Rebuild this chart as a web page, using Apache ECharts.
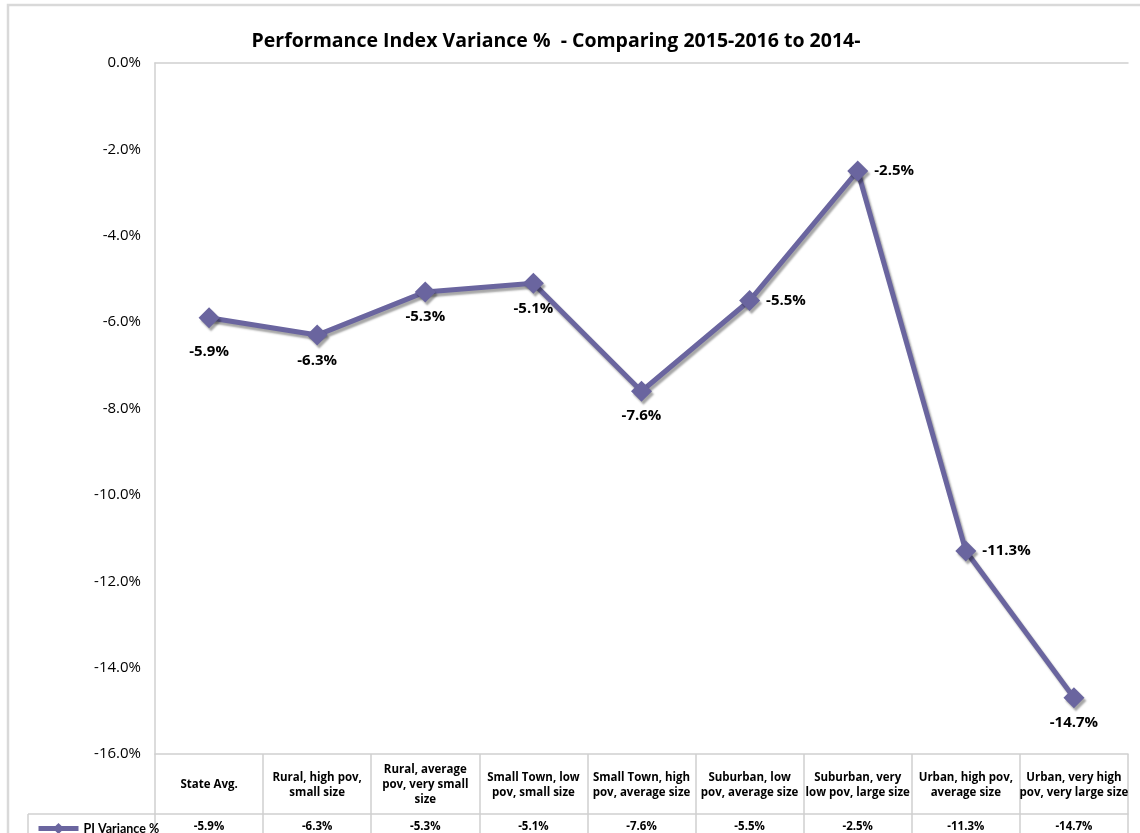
<!DOCTYPE html>
<html>
<head>
<meta charset="utf-8">
<script src="https://cdn.jsdelivr.net/npm/echarts@6/dist/echarts.min.js"></script>
<style>
html,body{margin:0;padding:0;background:#fff;}
#chart{width:1140px;height:833px;}
</style>
</head>
<body>
<div id="chart"></div>
<script>
const titleText = 'Performance Index Variance %  - Comparing 2015-2016 to 2014-';
const seriesName = 'PI Variance %';
const categories = [
  'State Avg.',
  'Rural, high pov,\nsmall size',
  'Rural, average\npov, very small\nsize',
  'Small Town, low\npov, small size',
  'Small Town, high\npov, average size',
  'Suburban, low\npov, average size',
  'Suburban, very\nlow pov, large size',
  'Urban, high pov,\naverage size',
  'Urban, very high\npov, very large size'
];
const values = [-5.9, -6.3, -5.3, -5.1, -7.6, -5.5, -2.5, -11.3, -14.7];
const yTicks = { min: -16, max: 0, interval: 2 };
const labelSide = ['bottom','bottom','bottom','bottom','bottom','right','right','right','bottom'];
const labelGap  = [16, 8, 7, 7, 7, 6, 6, 6, 7];

const FONT = '"Open Sans", "Noto Sans", sans-serif';
const GRIDC = '#d0d0d0';
const LINEC = '#6A659F';
const fmt = v => v.toFixed(1) + '%';

const chart = echarts.init(document.getElementById('chart'));
chart.setOption({
  animation: false,
  backgroundColor: '#fff',
  title: {
    text: titleText, left: 551, top: 26, textAlign: 'center',
    textStyle: { fontFamily: FONT, fontSize: 19.5, fontWeight: 'bold', color: '#000' }
  },
  legend: {
    left: 31, top: 817, itemWidth: 40, itemHeight: 14, itemGap: 4,
    lineStyle: { width: 5 },
    textStyle: { fontFamily: 'Lato, "Open Sans", sans-serif', fontSize: 12.5, fontWeight: 'bold', color: '#000' },
    data: [seriesName]
  },
  grid: { left: 155, right: 12, top: 63, bottom: 79, containLabel: false },
  xAxis: [
    {
      type: 'category', data: categories, position: 'bottom', boundaryGap: true,
      axisLine: { show: true, onZero: false, lineStyle: { color: GRIDC, width: 1.5 } },
      axisTick: { show: true, length: 82, lineStyle: { color: GRIDC, width: 1.5 } },
      axisLabel: { interval: 0, margin: 31, verticalAlign: 'middle', lineHeight: 15,
        fontFamily: FONT, fontSize: 11.5, fontWeight: 'bold', color: '#000', align: 'center' },
      splitLine: { show: false }
    },
    {
      type: 'category', data: categories, position: 'bottom', offset: 60, boundaryGap: true,
      axisLine: { show: true, onZero: false, lineStyle: { color: GRIDC, width: 1.5 } },
      axisTick: { show: false },
      axisLabel: { interval: 0, margin: 7, fontFamily: FONT, fontSize: 11.5, fontWeight: 'bold', color: '#000',
        formatter: (v, i) => fmt(values[i]) },
      splitLine: { show: false }
    },
    {
      type: 'category', data: categories, position: 'top',
      axisLine: { show: true, onZero: false, lineStyle: { color: GRIDC, width: 1.5 } },
      axisTick: { show: false }, axisLabel: { show: false }, splitLine: { show: false }
    }
  ],
  yAxis: {
    type: 'value', min: yTicks.min, max: yTicks.max, interval: yTicks.interval,
    axisLine: { show: true, onZero: false, lineStyle: { color: GRIDC, width: 1.5 } },
    axisTick: { show: false },
    splitLine: { show: false },
    axisLabel: { margin: 14, fontFamily: FONT, fontSize: 15, color: '#000', formatter: v => fmt(v) }
  },
  graphic: [
    { type: 'rect', shape: { x: 8, y: 5, width: 1200, height: 900 }, style: { fill: 'none', stroke: '#d9d9d9', lineWidth: 2.5 }, z: -1 },
    { type: 'line', shape: { x1: 28, y1: 814, x2: 155, y2: 814 }, style: { stroke: GRIDC, lineWidth: 1.5 } },
    { type: 'line', shape: { x1: 28, y1: 814, x2: 28, y2: 840 }, style: { stroke: GRIDC, lineWidth: 1.5 } }
  ],
  series: [{
    name: seriesName, type: 'line', xAxisIndex: 0,
    data: values.map((v, i) => ({
      value: v,
      label: { position: labelSide[i], distance: labelGap[i] }
    })),
    symbol: 'diamond', symbolSize: 21,
    lineStyle: { color: LINEC, width: 5, shadowColor: 'rgba(0,0,0,0.35)', shadowOffsetX: 2, shadowOffsetY: 3, shadowBlur: 2 },
    itemStyle: { color: LINEC, shadowColor: 'rgba(0,0,0,0.35)', shadowOffsetX: 2, shadowOffsetY: 3, shadowBlur: 2 },
    label: { show: true, formatter: p => fmt(p.value), fontFamily: FONT, fontSize: 15, fontWeight: 'bold', color: '#000' }
  }]
});
</script>
</body>
</html>
